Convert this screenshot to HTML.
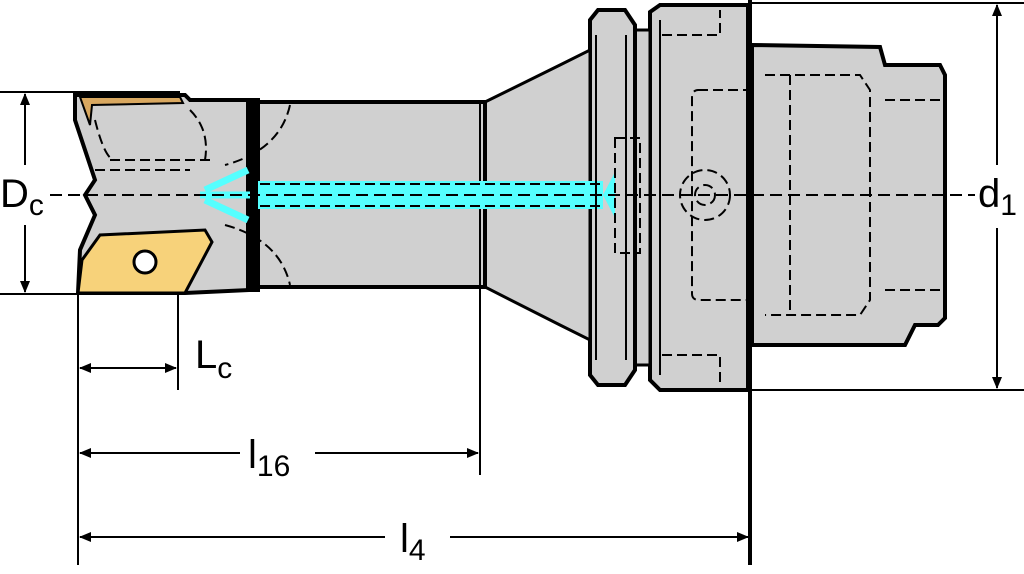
<!DOCTYPE html>
<html><head><meta charset="utf-8"><style>html,body{margin:0;padding:0;background:#fff}svg{display:block}</style></head><body>
<svg width="1024" height="574" viewBox="0 0 1024 574" xmlns="http://www.w3.org/2000/svg" font-family="Liberation Sans, sans-serif">
<defs>
<marker id="a" markerWidth="12" markerHeight="10" refX="11" refY="5" orient="auto-start-reverse" markerUnits="userSpaceOnUse"><path d="M0,0 L12,5 L0,10z" fill="#000"/></marker>
</defs>
<g stroke="#000" fill="#d0d0d0">
<path d="M752,45 L880,47 L885,65 L940,65 L945,75 L945,318 L938,325 L915,325 L905,345 L752,345 Z" stroke-width="4"/>
<path d="M650,12 L660,5 L748,5 L748,390 L660,390 L650,380 Z" stroke-width="4"/>
<path d="M635,30 L650,30 L650,365 L635,365 Z" stroke-width="3"/>
<path d="M590,20 L598,10 L625,10 L635,25 L635,370 L625,385 L598,385 L590,375 Z" stroke-width="4"/>
<path d="M485,102 L560,65 L590,50 L590,340 L560,325 L485,287 Z" stroke-width="3"/>
<rect x="258" y="102" width="227" height="185" stroke-width="4"/>
<path d="M75,95 L185,95 L190,100 L250,100 L250,290 L185,293 L78,293 L80,250 L95,215 L85,195 L95,180 L75,120 Z" stroke-width="4"/>
</g>
<rect x="246" y="98" width="14" height="194" fill="#000"/>
<line x1="750" y1="0" x2="750" y2="565" stroke="#000" stroke-width="4"/>
<line x1="480" y1="102" x2="480" y2="475" stroke="#000" stroke-width="2"/>
<path d="M80,97 L180,97 L183,103 L92,105 L90,125 Z" fill="#d9a860" stroke="#000" stroke-width="2"/>
<path d="M78,293 L82,260 L100,235 L205,230 L212,242 L185,293 Z" fill="#f7d27a" stroke="#000" stroke-width="3"/>
<circle cx="145" cy="262" r="11" fill="#fff" stroke="#000" stroke-width="3"/>
<rect x="258" y="181" width="345" height="28" fill="#5ff" />
<g stroke="#5ff" stroke-width="7" fill="none">
<line x1="200" y1="195" x2="250" y2="195"/>
<line x1="205" y1="190" x2="248" y2="170"/>
<line x1="205" y1="200" x2="248" y2="220"/>
</g>
<path d="M603,195 L615,172 L615,218 Z" fill="#5ff"/>
<g stroke="#000" stroke-width="2" fill="none" stroke-dasharray="10,5">
<line x1="260" y1="184" x2="600" y2="184"/><line x1="260" y1="206" x2="600" y2="206"/>
<line x1="95" y1="170" x2="190" y2="170"/><line x1="110" y1="160" x2="210" y2="160"/>
<path d="M95,120 Q105,160 115,160"/><path d="M190,110 Q210,130 205,160"/>
<path d="M290,105 Q280,150 225,165"/><path d="M225,225 Q280,240 290,285"/>
<rect x="692" y="90" width="60" height="210" rx="6"/>
<rect x="615" y="138" width="25" height="115"/>
<circle cx="705" cy="195" r="25"/><circle cx="705" cy="195" r="10"/>
<path d="M765,75 L860,75 L870,90 L870,300 L860,315 L765,315"/>
<line x1="790" y1="75" x2="790" y2="315"/>
<line x1="885" y1="100" x2="945" y2="100"/><line x1="885" y1="290" x2="945" y2="290"/>
<path d="M662,35 L720,35 L720,10"/><path d="M662,355 L720,355 L720,385"/>
</g>
<g stroke="#000" stroke-width="2">
<line x1="596" y1="35" x2="596" y2="360"/><line x1="626" y1="35" x2="626" y2="360"/>
<line x1="660" y1="20" x2="660" y2="375"/>
</g>
<line x1="50" y1="195" x2="975" y2="195" stroke="#000" stroke-width="2" stroke-dasharray="12,6"/>
<g stroke="#000" stroke-width="2" fill="none">
<line x1="0" y1="92" x2="180" y2="92"/><line x1="0" y1="294" x2="180" y2="294"/>
<line x1="25" y1="94" x2="25" y2="165" marker-start="url(#a)"/><line x1="25" y1="225" x2="25" y2="292" marker-end="url(#a)"/>
<line x1="750" y1="3" x2="1024" y2="3"/><line x1="750" y1="390" x2="1024" y2="390"/>
<line x1="997" y1="5" x2="997" y2="165" marker-start="url(#a)"/><line x1="997" y1="228" x2="997" y2="388" marker-end="url(#a)"/>
<line x1="78" y1="293" x2="78" y2="565"/><line x1="178" y1="293" x2="178" y2="390"/>
<line x1="80" y1="368" x2="176" y2="368" marker-start="url(#a)" marker-end="url(#a)"/>
<line x1="80" y1="453" x2="240" y2="453" marker-start="url(#a)"/><line x1="315" y1="453" x2="478" y2="453" marker-end="url(#a)"/>
<line x1="80" y1="537" x2="385" y2="537" marker-start="url(#a)"/><line x1="450" y1="537" x2="748" y2="537" marker-end="url(#a)"/>
</g>
<g fill="#000" font-size="40">
<text x="0" y="207">D<tspan font-size="30" dy="8">c</tspan></text>
<text x="978" y="207">d<tspan font-size="30" dy="8">1</tspan></text>
<text x="195" y="368">L<tspan font-size="30" dy="10">c</tspan></text>
<text x="248" y="468">l<tspan font-size="30" dy="8">16</tspan></text>
<text x="400" y="552">l<tspan font-size="30" dy="8">4</tspan></text>
</g>
</svg>
</body></html>
